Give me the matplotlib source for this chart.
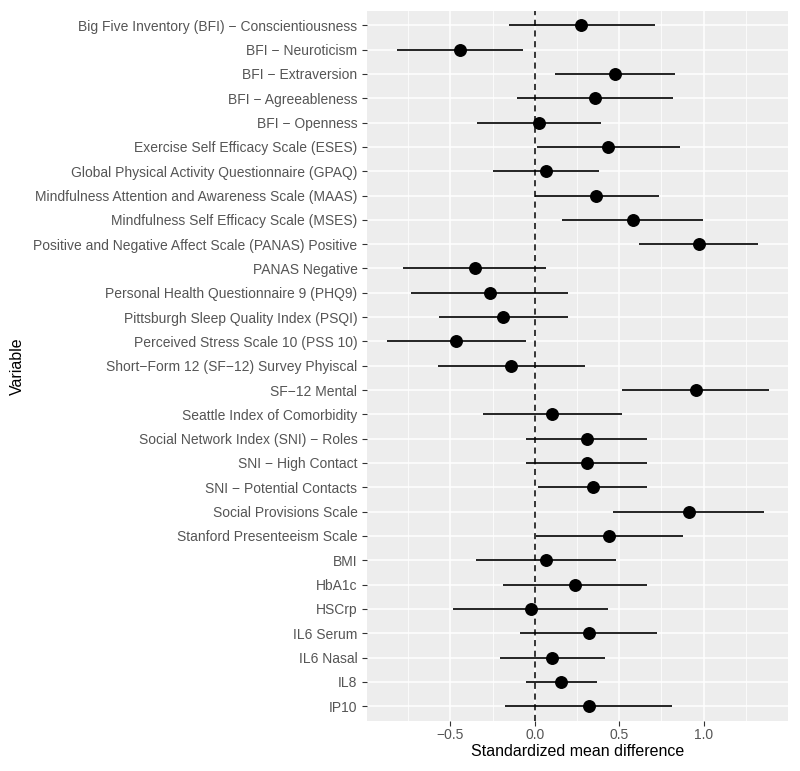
import matplotlib
matplotlib.use("Agg")
import matplotlib.pyplot as plt
from matplotlib.ticker import MultipleLocator

# dados (de cima para baixo)
variaveis = [
    "Big Five Inventory (BFI) − Conscientiousness",
    "BFI − Neuroticism",
    "BFI − Extraversion",
    "BFI − Agreeableness",
    "BFI − Openness",
    "Exercise Self Efficacy Scale (ESES)",
    "Global Physical Activity Questionnaire (GPAQ)",
    "Mindfulness Attention and Awareness Scale (MAAS)",
    "Mindfulness Self Efficacy Scale (MSES)",
    "Positive and Negative Affect Scale (PANAS) Positive",
    "PANAS Negative",
    "Personal Health Questionnaire 9 (PHQ9)",
    "Pittsburgh Sleep Quality Index (PSQI)",
    "Perceived Stress Scale 10 (PSS 10)",
    "Short−Form 12 (SF−12) Survey Phyiscal",
    "SF−12 Mental",
    "Seattle Index of Comorbidity",
    "Social Network Index (SNI) − Roles",
    "SNI − High Contact",
    "SNI − Potential Contacts",
    "Social Provisions Scale",
    "Stanford Presenteeism Scale",
    "BMI",
    "HbA1c",
    "HSCrp",
    "IL6 Serum",
    "IL6 Nasal",
    "IL8",
    "IP10",
]

smd = [0.276, -0.444, 0.474, 0.357, 0.024, 0.432, 0.067, 0.361, 0.581, 0.970,
       -0.355, -0.267, -0.186, -0.464, -0.138, 0.952, 0.103, 0.308, 0.310, 0.344,
       0.910, 0.442, 0.067, 0.241, -0.024, 0.320, 0.103, 0.158, 0.320]

ic_inf = [-0.152, -0.816, 0.120, -0.105, -0.340, 0.012, -0.249, 0.000, 0.164, 0.618,
          -0.780, -0.733, -0.569, -0.877, -0.575, 0.517, -0.308, -0.049, -0.049, 0.020,
          0.462, 0.008, -0.346, -0.188, -0.482, -0.085, -0.207, -0.049, -0.176]

ic_sup = [0.709, -0.067, 0.831, 0.821, 0.391, 0.857, 0.383, 0.735, 0.993, 1.321,
          0.065, 0.199, 0.199, -0.051, 0.300, 1.386, 0.515, 0.667, 0.667, 0.667,
          1.355, 0.877, 0.480, 0.667, 0.436, 0.723, 0.413, 0.371, 0.814]

plt.rcParams["font.family"] = ["Liberation Sans", "DejaVu Sans"]

fig = plt.figure(figsize=(8, 7.71), dpi=100)
ax = fig.add_axes([0.459, 0.0652, 0.526, 0.9209])

n = len(variaveis)
y = list(range(n - 1, -1, -1))  # primeira variável no topo

# fundo e grades estilo ggplot
ax.set_facecolor("#EDEDED")
for s in ax.spines.values():
    s.set_visible(False)
ax.xaxis.set_major_locator(MultipleLocator(0.5))
ax.xaxis.set_minor_locator(MultipleLocator(0.25))
ax.grid(which="major", color="white", linewidth=1.1)
ax.grid(which="minor", axis="x", color="white", linewidth=0.55)
ax.set_axisbelow(True)

# linha de referência em zero
ax.axvline(0, color="black", linestyle=(0, (4, 3)), linewidth=1.1, zorder=2)

# intervalos e pontos
ax.hlines(y, ic_inf, ic_sup, color="black", linewidth=1.2, zorder=3)
ax.plot(smd, y, "o", color="black", markersize=8.3, zorder=4)

ax.set_xlim(-0.992, 1.499)
ax.set_ylim(-0.6, n - 1 + 0.6)
ax.set_yticks(y)
ax.set_yticklabels(variaveis)

ax.tick_params(axis="both", which="major", colors="#333333", length=3.5,
               width=0.8, labelsize=10, labelcolor="#555555")
ax.tick_params(axis="x", which="minor", length=0)
ax.tick_params(axis="x", pad=2)

ax.set_xlabel("Standardized mean difference", fontsize=11.5, labelpad=1)
ax.set_ylabel("Variable", fontsize=11.5, labelpad=6)

fig.savefig("out.png", dpi=100)
